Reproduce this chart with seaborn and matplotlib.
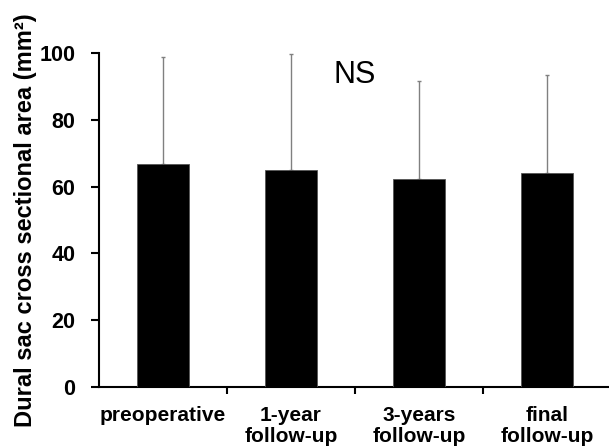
import matplotlib
matplotlib.use("Agg")
import matplotlib.pyplot as plt
import seaborn as sns
import pandas as pd
import numpy as np

categories = ["preoperative", "1-year\nfollow-up", "3-years\nfollow-up", "final\nfollow-up"]
means = [66.7, 65.0, 62.3, 64.2]
sds = [32.3, 34.7, 29.5, 29.4]
y_ticks = [0, 20, 40, 60, 80, 100]

sns.set_style("ticks")
plt.rcParams['font.family'] = ['Liberation Sans', 'DejaVu Sans']
plt.rcParams['text.color'] = 'black'
plt.rcParams['axes.labelcolor'] = 'black'
plt.rcParams['xtick.color'] = 'black'
plt.rcParams['ytick.color'] = 'black'

df = pd.DataFrame({"cat": categories, "mean": means, "sd": sds})

fig = plt.figure(figsize=(6.09, 4.48), dpi=100)
ax = fig.add_axes([99/609, 1 - 386.7/448, 512/609, (386.7 - 53.3)/448])

sns.barplot(data=df, x="cat", y="mean", color="black", width=0.4, errorbar=None,
            saturation=1, ax=ax, zorder=3, edgecolor="#555555", linewidth=0.6)
ax.errorbar(x=np.arange(len(categories)), y=df["mean"],
            yerr=[np.zeros(len(sds)), df["sd"]], fmt="none",
            ecolor="#808080", elinewidth=1.0, capsize=1.5, capthick=1.0, zorder=2)

ax.set_xlim(-0.5, 3.5)
ax.set_ylim(0, 100)
ax.set_yticks(y_ticks)
ax.set_yticklabels([str(t) for t in y_ticks], fontsize=15.5, fontweight="bold")
ax.set_xticks(np.arange(len(categories)))
ax.set_xticklabels(categories, fontsize=15, fontweight="bold", linespacing=1.15)
ax.tick_params(axis="x", which="major", length=0, pad=14)
ax.set_xticks([0.5, 1.5, 2.5], minor=True)
ax.tick_params(axis="x", which="minor", length=5, width=1.5, direction="out")
ax.tick_params(axis="y", length=6, width=1.5, pad=11)

for s in ["top", "right"]:
    ax.spines[s].set_visible(False)
for s in ["left", "bottom"]:
    ax.spines[s].set_linewidth(1.5)
    ax.spines[s].set_color("black")

ax.set_xlabel("")
ax.set_ylabel("Dural sac cross sectional area (mm²)", fontsize=17, fontweight="bold")
ax.yaxis.set_label_coords(-62/512, 0.5)

ax.text(1.5, 93.5, "NS", fontsize=22, ha="center", va="center")

fig.savefig("out.png", dpi=100)
